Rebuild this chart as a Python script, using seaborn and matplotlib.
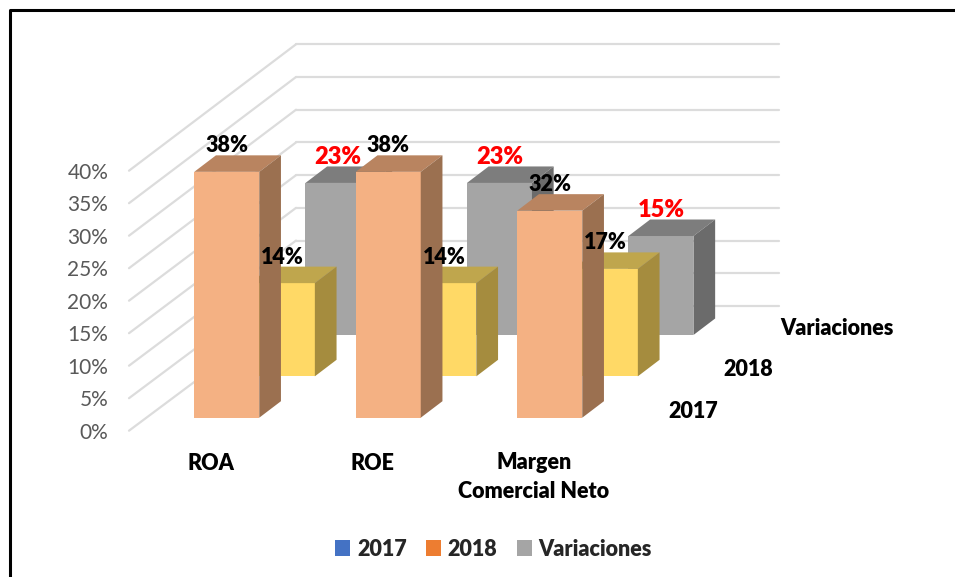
#!/usr/bin/env python3

import matplotlib

matplotlib.use("Agg")

import matplotlib.pyplot as plt
from matplotlib.lines import Line2D
from matplotlib.patches import Patch, Polygon
from matplotlib.ticker import PercentFormatter
from matplotlib.transforms import IdentityTransform
import seaborn as sns

CATEGORIES = ["ROA", "ROE", "Margen\nComercial Neto"]
VALUES_2017 = [38, 38, 32]
VALUES_2018 = [14.4, 14.4, 16.6]
VARIACIONES = [23.5, 23.5, 15.3]
LABELS_2017 = ["38%", "38%", "32%"]
LABELS_2018 = ["14%", "14%", "17%"]
LABELS_VAR = ["23%", "23%", "15%"]
SERIES_NAMES = ["2017", "2018", "Variaciones"]
LEGEND_COLORS = ["#4472C4", "#ED7D31", "#A5A5A5"]
Y_TICKS = [0, 5, 10, 15, 20, 25, 30, 35, 40]

W, H = 955, 577
BAR_WIDTH = 0.4025
DEPTH_X, DEPTH_Y = 21.7, 16.5
GRID = "#DCDCDC"
FONT = "Lato"
WEIGHT = 800


def rect(left, top, right, bottom):
    return [left / W, 1 - bottom / H, (right - left) / W, (bottom - top) / H]


def fig_text(fig, x, y, text, **kw):
    # x, y in image pixels, y going down
    kw.setdefault("fontsize", 15.5)
    kw.setdefault("color", "black")
    fig.text(x / W, 1 - (y + 1.5) / H, text, ha="center", va="center", family=FONT,
             fontweight=WEIGHT, **kw)


def draw_series(fig, left, base, values, labels, face, top, side, label_color, label_size):
    ax = fig.add_axes(rect(left, base - 40 * 6.47, left + 484.5, base))
    sns.barplot(x=CATEGORIES, y=values, color=face, saturation=1, width=BAR_WIDTH,
                linewidth=0, ax=ax)
    ax.set_xlim(-0.5, 2.5)
    ax.set_ylim(0, 40)
    ax.set_axis_off()

    to_px = ax.transData.transform
    for bar, label in zip(ax.patches, labels):
        x0, y0 = to_px((bar.get_x(), 0))
        x1, y1 = to_px((bar.get_x() + bar.get_width(), bar.get_height()))
        top_face = [(x0, y1), (x1, y1), (x1 + DEPTH_X, y1 + DEPTH_Y), (x0 + DEPTH_X, y1 + DEPTH_Y)]
        side_face = [(x1, y0), (x1, y1), (x1 + DEPTH_X, y1 + DEPTH_Y), (x1 + DEPTH_X, y0 + DEPTH_Y)]
        for verts, color in ((top_face, top), (side_face, side)):
            ax.add_patch(Polygon(verts, closed=True, facecolor=color, edgecolor="none",
                                 transform=IdentityTransform(), clip_on=False))
        fig_text(fig, (x0 + x1) / 2, H - (y1 + DEPTH_Y) - 11, label, color=label_color,
                 fontsize=label_size)
    return ax


def main():
    sns.set_theme(style="white")
    plt.rcParams["font.family"] = [FONT, "DejaVu Sans"]
    fig = plt.figure(figsize=(W / 100, H / 100), dpi=100, facecolor="white")

    # back wall
    ax_back = fig.add_axes(rect(296, 44.3, 779, 306))
    ax_back.set_ylim(0, 40)
    ax_back.set_yticks(Y_TICKS)
    ax_back.set_xticks([])
    ax_back.tick_params(left=False, labelleft=False)
    ax_back.grid(axis="y", color=GRID, linewidth=1.6)
    for line in ax_back.get_ygridlines():
        line.set_clip_on(False)
    ax_back.patch.set_visible(False)
    sns.despine(ax=ax_back, left=True, bottom=True)

    # front value axis, only the tick labels show
    ax_val = fig.add_axes(rect(129, 170.7, 296, 430.7))
    ax_val.set_ylim(0, 40)
    ax_val.set_yticks(Y_TICKS)
    ax_val.set_xticks([])
    ax_val.yaxis.set_major_formatter(PercentFormatter(decimals=0))
    ax_val.tick_params(left=False, pad=9, labelsize=15, labelcolor="#595959")
    ax_val.patch.set_visible(False)
    sns.despine(ax=ax_val, left=True, bottom=True)

    # side wall joins the two
    for tick in Y_TICKS:
        a = ax_val.transData.transform((0, tick))
        b = (ax_back.get_position().x0 * W, ax_back.transData.transform((0, tick))[1])
        ax_back.add_line(Line2D([a[0], b[0]], [a[1], b[1]], color=GRID, linewidth=1.6,
                                transform=IdentityTransform(), clip_on=False))

    # back to front so the nearer bars cover the others
    draw_series(fig, 257.2, 335, VARIACIONES, LABELS_VAR, "#A5A5A5", "#7D7D7D", "#6B6B6B", "#FF0000", 17)
    draw_series(fig, 201.6, 376.3, VALUES_2018, LABELS_2018, "#FFD966", "#BFA64D", "#A58C3E", "black", 15.5)
    ax = draw_series(fig, 146, 417.7, VALUES_2017, LABELS_2017, "#F4B183", "#B98460", "#9B7050", "black", 15.5)

    # category labels sit left of the bar centres
    for i, cat in enumerate(CATEGORIES):
        x = ax.transData.transform((i, 0))[0] - 16
        if "\n" in cat:
            first, second = cat.split("\n")
            fig_text(fig, x, 461, first)
            fig_text(fig, x, 490, second)
        else:
            fig_text(fig, x, 462, cat)

    fig_text(fig, 693, 410, SERIES_NAMES[0])
    fig_text(fig, 748, 368, SERIES_NAMES[1])
    fig_text(fig, 836.5, 327, SERIES_NAMES[2])

    handles = [Patch(facecolor=c, edgecolor="none") for c in LEGEND_COLORS]
    fig.legend(
        handles, SERIES_NAMES, ncol=3, frameon=False, loc="center",
        bbox_to_anchor=(493.5 / W, 1 - 549 / H),
        prop={"family": FONT, "weight": WEIGHT, "size": 15.5},
        handlelength=0.7, handleheight=0.7, handletextpad=0.3, columnspacing=0.9,
    )

    # frame of the pasted picture: top and left only
    fig.add_artist(Line2D([9.5 / W, 9.5 / W, 1], [0, 1 - 10.3 / H, 1 - 10.3 / H],
                          color="black", linewidth=2.2, transform=fig.transFigure))

    fig.savefig("out.png", dpi=100)


if __name__ == "__main__":
    main()
